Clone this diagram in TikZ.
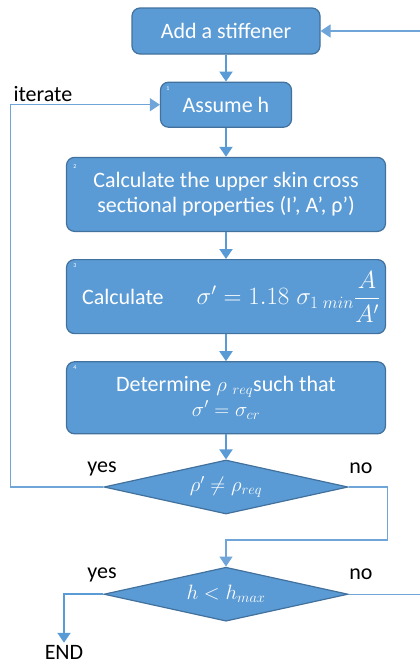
\documentclass[tikz,border=0pt]{standalone}
\usepackage{fontspec}
\setmainfont{Carlito}
\usetikzlibrary{positioning,arrows.meta}
\usetikzlibrary{shapes.geometric}
\RequirePackage{amsmath}
\usepackage{xcolor}
\definecolor{boxblue}{HTML}{5B9BD5}
\definecolor{edgeblue}{HTML}{41719C}
\definecolor{lineblue}{HTML}{6FA5D9}

\begin{document}
\begin{tikzpicture}[x=1pt,y=-1pt,font=\fontsize{22}{25}\selectfont]
  \tikzstyle{every node}=[align=center]
  \tikzstyle{stepbox}=[draw=edgeblue, fill=boxblue, line width=1.2pt, rounded corners=8pt, text=white, minimum width=319pt, minimum height=74pt, inner sep=2pt]
  \tikzstyle{test}=[diamond, aspect=4.5, draw=edgeblue, fill=boxblue, line width=1.2pt, text=white, inner sep=0pt, minimum width=244pt, minimum height=54pt]
  \tikzstyle{num}=[text=white, font=\fontsize{6}{6}\selectfont, inner sep=0pt]
  \tikzstyle{flow}=[-{Triangle[width=13pt,length=10pt]}, draw=boxblue, line width=2pt]
  \tikzstyle{back}=[draw=lineblue, line width=1.3pt]
  % \draw [step=10,gray!30] (0,0) grid (420,664);
  \useasboundingbox (0,0) rectangle (420,664);
  \node [stepbox, minimum width=188pt, minimum height=46pt] (n1) at (226,31) {Add a stiffener};
  \node [stepbox, below = 27pt of n1, minimum width=131pt, minimum height=45pt] (n2) {Assume h};
  \node [stepbox, below = 29pt of n2] (n3) {Calculate the upper skin cross\\sectional properties (I’, A’, ρ’)};
  \node [stepbox, below = 27pt of n3] (n4) {\hspace*{10pt}Calculate\hspace{33pt}{\fontsize{23.5}{26}\selectfont$\sigma' = 1.18\;\sigma_{1\;min}\dfrac{A}{A'}$}};
  \node [stepbox, below = 27pt of n4, minimum height=72pt] (n5) {Determine $\rho\;{}_{req}$such that\\$\sigma' = \sigma_{cr}$};
  \node [test, below = 25pt of n5] (n6) {$\rho' \neq \rho_{req}$};
  \node [test, below = 52pt of n6] (n7) {$h < h_{max}$};
  \node [inner sep=2pt] (n8) at (64,652) {END};

  \node [num] (num1) at (168,89) {1};
  \node [num] (num2) at (75,167) {2};
  \node [num] (num3) at (75,266) {3};
  \node [num] (num4) at (75,368) {4};

  \node [anchor=west] (iter) at (10,94) {iterate};
  \node (yes1) at (102,469) {yes};
  \node (no1) at (361,468) {no};
  \node (yes2) at (102,575) {yes};
  \node (no2) at (361,574) {no};

  \draw [flow] (n1) -- (n2);
  \draw [flow] (n2) -- (n3);
  \draw [flow] (n3) -- (n4);
  \draw [flow] (n4) -- (n5);
  \draw [flow] (n5) -- (n6);
  \draw [back, -{Triangle[width=13pt,length=10pt]}] (n6.west) -- ++(-93,0) |- (n2.west);
  \draw [back, -{Triangle[width=13pt,length=10pt]}] (n6.east) -| ++(39,53) -| (n7.north);
  \draw [flow] (n7.west) -| (n8.north);
  \draw [back, -{Triangle[width=13pt,length=10pt]}] (n7.east) -| ++(72.5,0) |- (n1.east);
\end{tikzpicture}
\end{document}
